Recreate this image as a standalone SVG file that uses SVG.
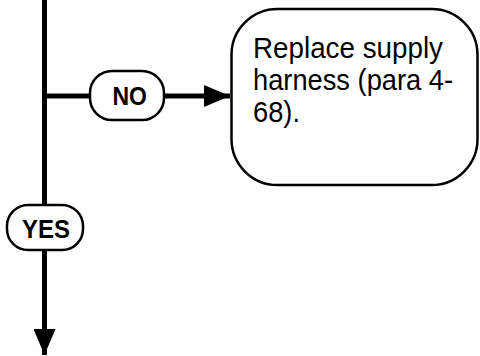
<svg xmlns="http://www.w3.org/2000/svg" width="480" height="356" viewBox="0 0 480 356">
<style>
.line{stroke:#000;stroke-width:5;fill:none}
.pill{fill:#fff;stroke:#000;stroke-width:2.5}
.lbl{font-family:"Liberation Sans",Arial,sans-serif;font-weight:bold;font-size:25px;fill:#000}
.body{font-family:"Liberation Sans",Arial,sans-serif;font-size:30px;fill:#000}
</style>
<defs>
<marker id="ah" markerUnits="userSpaceOnUse" markerWidth="26" markerHeight="22" refX="26" refY="11" orient="auto">
<path d="M0,0 L26,11 L0,22 Z" fill="#000"/>
</marker>
</defs>
<g id="connectors">
<line class="line" x1="44.5" y1="0" x2="44.5" y2="96"/>
<line class="line" x1="44.5" y1="96" x2="44.5" y2="355" marker-end="url(#ah)"/>
<line class="line" x1="44.5" y1="96" x2="230" y2="96" marker-end="url(#ah)"/>
</g>
<g id="no">
<rect class="pill" x="90" y="71" width="74" height="49" rx="22"/>
<text class="lbl" x="112.5" y="105" textLength="34.5" lengthAdjust="spacingAndGlyphs">NO</text>
</g>
<g id="yes">
<rect class="pill" x="7" y="205" width="76" height="45" rx="21"/>
<text class="lbl" x="22" y="238" textLength="48" lengthAdjust="spacingAndGlyphs">YES</text>
</g>
<g id="replace">
<rect class="pill" x="231.5" y="9" width="246" height="176" rx="46"/>
<text class="body"><tspan x="253" y="58" textLength="190" lengthAdjust="spacingAndGlyphs">Replace supply</tspan><tspan x="253" y="90" textLength="200" lengthAdjust="spacingAndGlyphs">harness (para 4-</tspan><tspan x="253" y="122" textLength="47" lengthAdjust="spacingAndGlyphs">68).</tspan></text>
</g>
</svg>
